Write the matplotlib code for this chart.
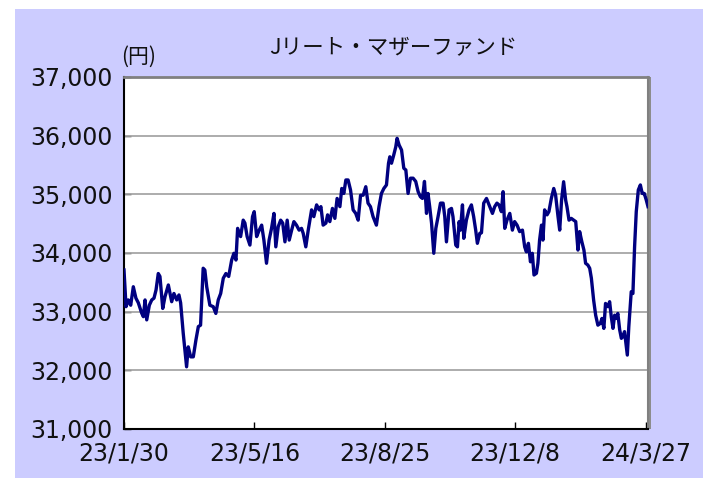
import matplotlib
matplotlib.use("Agg")
import matplotlib.pyplot as plt
from matplotlib.patches import Rectangle

plt.rcParams['font.family'] = ['Noto Sans CJK JP', 'DejaVu Sans']

title = "Jリート・マザーファンド"
unit_label = "(円)"
tick_days = [0, 70, 140, 210, 280]
tick_labels = ["23/1/30", "23/5/16", "23/8/25", "23/12/8", "24/3/27"]
y_ticks = [31000, 32000, 33000, 34000, 35000, 36000, 37000]

days = [
    0.0, 1.1, 2.3, 3.6, 5.0, 6.4, 7.7, 9.5, 10.4, 11.3, 12.2, 13.6, 14.9, 16.1,
    17.2, 18.4, 19.3, 20.8, 22.0, 23.8, 25.6, 26.8, 28.3, 29.5, 30.4, 31.8, 33.6,
    34.5, 35.8, 37.2, 38.6, 39.9, 41.1, 42.5, 43.4, 44.4, 46.1, 47.9, 49.3, 50.6,
    51.9, 53.3, 54.7, 56.2, 57.8, 59.0, 60.1, 61.0, 62.6, 64.0, 64.9, 66.1, 67.6,
    69.0, 69.9, 71.2, 72.6, 73.9, 75.1, 76.5, 77.9, 79.2, 80.5, 81.5, 82.8, 84.1,
    85.2, 86.4, 87.6, 88.7, 90.0, 91.2, 92.6, 94.0, 95.3, 96.2,
    97.6, 98.9, 100.7, 101.9, 103.4, 104.8, 105.7, 106.9, 108.4, 109.3, 110.5,
    111.9, 113.2, 114.4, 115.9, 116.9, 118.0, 119.1, 120.3, 121.6, 123.0, 124.4,
    125.7, 127.0, 128.4, 129.8, 131.0, 132.3, 133.7, 135.5, 136.9, 138.2, 139.5,
    140.9, 142.0, 142.7, 143.6, 144.8, 145.9, 146.6, 147.7, 149.0, 150.2, 151.3,
    152.5, 153.8, 155.2, 156.6, 157.9, 159.1, 160.2, 161.3, 162.4, 163.2, 164.1,
    165.1, 166.3, 167.4, 168.6, 169.9, 171.3, 172.2, 173.1, 174.5, 175.8, 176.6,
    178.1, 179.0, 179.9, 180.6, 181.7, 182.4, 183.8, 185.2, 186.5, 187.7, 188.8,
    189.7, 191.0, 191.9, 193.1, 194.6, 196.0,
    196.7, 197.8, 199.0, 200.2, 201.3, 202.6, 203.5, 204.4, 205.6, 207.1, 208.5,
    209.7, 211.0, 212.4, 213.9, 215.1, 216.0, 217.1, 218.2, 219.2, 220.1, 221.4,
    222.2, 223.1, 224.1, 224.9, 225.8, 227.1, 228.1, 229.4, 230.7, 231.7, 233.0,
    233.9, 234.9, 236.0, 237.1, 237.8, 238.9, 240.1, 241.4, 242.5, 243.7, 244.6,
    245.8, 246.9, 247.8, 249.0, 250.0, 250.9, 252.1, 253.2, 254.4, 255.7, 256.6,
    257.6, 258.5, 259.8, 260.7, 261.6, 262.5, 263.4, 264.3, 265.1, 266.1, 267.0,
    267.8, 268.7, 270.2, 271.0, 272.3, 273.2, 274.1, 275.0, 276.1, 277.2, 278.2,
    279.3, 280.4, 281.3,
]

nav = [
    33710, 33085, 33200, 33110, 33425, 33230, 33150, 32975, 32915, 33200, 32860,
    33110, 33200, 33230, 33370, 33650, 33600, 33055, 33255, 33455, 33170, 33310,
    33200, 33285, 33150, 32630, 32060, 32400, 32230, 32230, 32515, 32745, 32770,
    33740, 33710, 33425, 33110, 33085, 32970, 33200, 33310, 33570, 33650, 33600,
    33880, 33995, 33880, 34420, 34280, 34560, 34510, 34280, 34135, 34620, 34705,
    34280, 34390, 34475, 34220, 33825, 34220, 34420, 34675, 34105, 34450, 34560,
    34510, 34190, 34560, 34220, 34390, 34535, 34475, 34390, 34420, 34335,
    34105, 34390, 34735, 34620, 34820, 34735, 34790, 34475, 34510, 34650, 34535,
    34760, 34590, 34930, 34790, 35100, 35015, 35245, 35245, 35075, 34735, 34675,
    34560, 34985, 34985, 35130, 34850, 34790, 34620, 34475, 34790, 35015, 35100,
    35160, 35530, 35640, 35530, 35670, 35810, 35955, 35840, 35755, 35445, 35415,
    35015, 35275, 35275, 35220, 35045, 34960, 34930, 35220, 34675, 35015, 34790,
    34510, 33995, 34420, 34620, 34850, 34850, 34620, 34190, 34735, 34760, 34620,
    34135, 34105, 34535, 34390, 34820, 34250, 34560, 34735, 34820, 34620, 34390,
    34165, 34335, 34345, 34850, 34930, 34820,
    34760, 34675, 34790, 34850, 34820, 34705, 35045, 34420, 34560, 34675, 34390,
    34535, 34475, 34365, 34390, 34105, 34020, 34165, 33850, 33995, 33625, 33655,
    33825, 34220, 34475, 34220, 34735, 34650, 34705, 34930, 35100, 34985, 34620,
    34390, 34900, 35215, 34900, 34790, 34560, 34590, 34560, 34535, 34050, 34365,
    34190, 34050, 33825, 33795, 33740, 33570, 33200, 32940, 32770, 32800, 32885,
    32715, 33140, 33085, 33170, 32910, 32715, 32940, 32885, 32970, 32690, 32545,
    32575, 32660, 32260, 32745, 33340, 33310, 34105, 34705, 35075, 35160, 35015,
    35015, 34900, 34790,
]

W, H = 703, 480
fig = plt.figure(figsize=(W / 100, H / 100), dpi=100)
fig.patch.set_facecolor("white")

# lavender panel behind everything
bg = fig.add_axes([0, 0, 1, 1], zorder=-10)
bg.set_xlim(0, W)
bg.set_ylim(H, 0)
bg.axis("off")
bg.add_patch(Rectangle((15, 9), W - 15, 478 - 9, facecolor="#CCCCFF",
                       edgecolor="none"))

L, R, T, B = 124, 648, 77, 429
# shadow at right of the plot area
bg.add_patch(Rectangle((R - 1, T), 4, B - T, facecolor="#8C8C8C",
                       edgecolor="none"))

ax = fig.add_axes([L / W, 1 - B / H, (R - L) / W, (B - T) / H], zorder=5)
ax.set_facecolor("white")

ax.plot(days, nav, color="#000080", lw=2.4, solid_joinstyle="round", zorder=3)

ax.set_xlim(0, 281.3)
ax.set_ylim(31000, 37000)
ax.set_yticks(y_ticks)
ax.set_yticklabels([f"{v:,}" for v in y_ticks])
ax.set_xticks(tick_days)
ax.set_xticklabels(tick_labels)

for v in y_ticks[1:-1]:
    ax.axhline(v, color="#A6A6A6", lw=1.3, zorder=2)

ax.tick_params(axis="both", direction="in", length=5, width=1, color="black",
               labelcolor="#111111")
ax.tick_params(axis="y", pad=8)
ax.tick_params(axis="x", pad=9)
for lab in ax.get_yticklabels() + ax.get_xticklabels():
    lab.set_family(["DejaVu Sans"])
    lab.set_fontsize(17)

for s in ["left", "bottom"]:
    ax.spines[s].set_color("black")
    ax.spines[s].set_linewidth(1.5)
ax.spines["top"].set_color("#808080")
ax.spines["top"].set_linewidth(2)
ax.spines["right"].set_color("#808080")
ax.spines["right"].set_linewidth(1.5)

fig.text(393 / W, 1 - 47 / H, title, ha="center", va="center", fontsize=15.5,
         color="#111111")
fig.text(139 / W, 1 - 57 / H, unit_label, ha="center", va="center", fontsize=15,
         color="#111111")

fig.savefig("out.png", dpi=100)
